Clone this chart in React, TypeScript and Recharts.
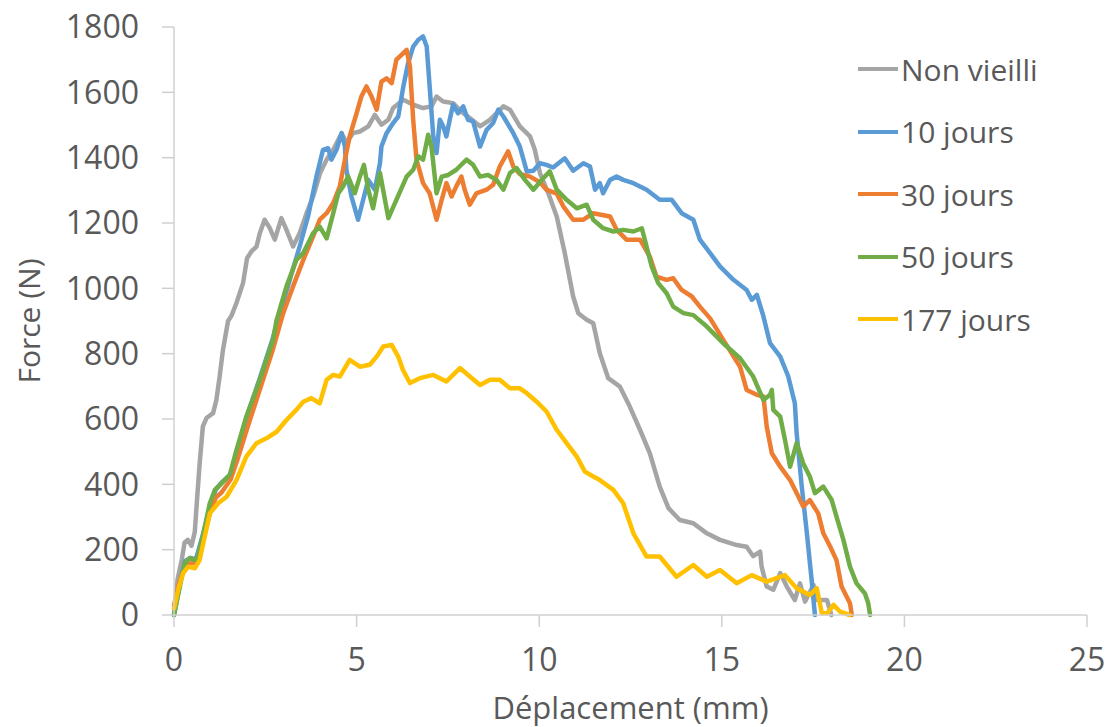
import { Label, Legend, Line, LineChart, XAxis, YAxis } from "recharts";

type Pt = [number, number];

// tick values
const xTicks = [0, 5, 10, 15, 20, 25];
const yTicks = [0, 200, 400, 600, 800, 1000, 1200, 1400, 1600, 1800];

// [déplacement (mm), force (N)]
const nonVieilli: Pt[] = [
  [0, 0], [0.1, 110], [0.21, 168], [0.29, 222], [0.38, 230], [0.48, 212], [0.57, 255],
  [0.63, 352], [0.7, 460], [0.79, 577], [0.89, 603], [1.07, 618], [1.16, 658], [1.25, 730],
  [1.34, 811], [1.48, 900], [1.57, 915], [1.71, 955], [1.89, 1016], [2.0, 1092], [2.12, 1113],
  [2.26, 1128], [2.35, 1169], [2.48, 1210], [2.62, 1185], [2.76, 1149], [2.94, 1215],
  [3.08, 1179], [3.26, 1128], [3.44, 1169], [3.63, 1230], [3.81, 1281], [4.0, 1353],
  [4.18, 1394], [4.36, 1424], [4.59, 1475], [4.72, 1445], [4.9, 1475], [5.09, 1480],
  [5.32, 1496], [5.5, 1531], [5.68, 1501], [5.87, 1516], [6.0, 1552], [6.28, 1577],
  [6.55, 1562], [6.82, 1552], [7.05, 1557], [7.19, 1587], [7.37, 1572], [7.64, 1567],
  [7.87, 1541], [8.1, 1521], [8.38, 1496], [8.65, 1516], [9.02, 1557], [9.2, 1547],
  [9.47, 1496], [9.75, 1465], [9.88, 1424], [10.02, 1353], [10.25, 1291], [10.48, 1220],
  [10.7, 1108], [10.93, 975], [11.07, 924], [11.3, 904], [11.48, 893], [11.66, 801],
  [11.89, 725], [12.21, 699], [12.48, 638], [12.76, 567], [13.03, 495], [13.3, 393],
  [13.54, 327], [13.85, 291], [14.22, 281], [14.59, 250], [14.95, 230], [15.41, 214],
  [15.68, 209], [15.86, 180], [16.05, 194], [16.09, 148], [16.23, 87], [16.41, 77],
  [16.6, 128], [16.78, 87], [17.0, 46], [17.14, 97], [17.28, 41], [17.51, 92], [17.6, 46],
  [17.88, 46], [18.0, 0],
];

const dixJours: Pt[] = [
  [0, 0], [0.15, 90], [0.3, 165], [0.45, 175], [0.6, 170], [0.8, 250], [1.0, 340],
  [1.15, 385], [1.3, 405], [1.55, 430], [1.75, 510], [2.0, 610], [2.35, 725], [2.7, 845],
  [2.94, 939], [3.17, 1026], [3.44, 1128], [3.67, 1220], [3.9, 1342], [4.08, 1424],
  [4.22, 1429], [4.31, 1394], [4.45, 1424], [4.59, 1475], [4.68, 1434], [4.72, 1363],
  [4.86, 1281], [5.04, 1210], [5.18, 1271], [5.32, 1332], [5.5, 1302], [5.64, 1383],
  [5.68, 1434], [5.82, 1475], [6.0, 1506], [6.14, 1526], [6.28, 1618], [6.41, 1689],
  [6.55, 1740], [6.69, 1761], [6.82, 1771], [6.92, 1740], [7.0, 1618], [7.1, 1465],
  [7.19, 1414], [7.28, 1516], [7.37, 1496], [7.46, 1465], [7.55, 1516], [7.64, 1562],
  [7.78, 1536], [7.92, 1557], [8.05, 1516], [8.19, 1511], [8.38, 1434], [8.56, 1485],
  [8.74, 1506], [8.88, 1547], [9.02, 1526], [9.29, 1475], [9.47, 1434], [9.66, 1358],
  [9.84, 1360], [10.02, 1383], [10.2, 1378], [10.38, 1370], [10.7, 1398], [10.93, 1360],
  [11.21, 1383], [11.39, 1373], [11.53, 1302], [11.66, 1322], [11.75, 1291], [11.94, 1332],
  [12.12, 1342], [12.3, 1332], [12.58, 1322], [12.94, 1302], [13.3, 1271], [13.63, 1271],
  [13.9, 1230], [14.22, 1210], [14.4, 1149], [14.68, 1108], [14.95, 1067], [15.32, 1026],
  [15.68, 995], [15.82, 965], [15.96, 980], [16.14, 914], [16.32, 832], [16.6, 791],
  [16.82, 730], [17.0, 648], [17.05, 556], [17.19, 393], [17.33, 250], [17.46, 107],
  [17.55, 0],
];

const trenteJours: Pt[] = [
  [0, 30], [0.15, 100], [0.3, 150], [0.45, 158], [0.6, 160], [0.8, 230], [1.0, 320],
  [1.15, 360], [1.3, 375], [1.55, 415], [1.75, 480], [2.0, 570], [2.35, 690], [2.7, 810],
  [2.99, 924], [3.26, 1006], [3.54, 1087], [3.81, 1159], [3.99, 1210], [4.18, 1230],
  [4.36, 1261], [4.54, 1312], [4.68, 1394], [4.81, 1465], [5.0, 1536], [5.13, 1587],
  [5.27, 1618], [5.41, 1587], [5.55, 1547], [5.68, 1633], [5.82, 1643], [5.96, 1628],
  [6.09, 1700], [6.23, 1715], [6.37, 1730], [6.46, 1680], [6.55, 1516], [6.64, 1394],
  [6.82, 1322], [7.0, 1291], [7.19, 1210], [7.33, 1271], [7.46, 1322], [7.6, 1281],
  [7.73, 1312], [7.87, 1342], [7.96, 1302], [8.1, 1256], [8.28, 1291], [8.56, 1302],
  [8.74, 1317], [8.92, 1373], [9.15, 1419], [9.29, 1373], [9.47, 1350], [9.75, 1342],
  [10.02, 1325], [10.2, 1302], [10.48, 1290], [10.66, 1251], [10.93, 1210], [11.21, 1210],
  [11.48, 1230], [11.94, 1220], [12.12, 1179], [12.39, 1149], [12.76, 1149], [13.03, 1097],
  [13.21, 1036], [13.49, 1026], [13.67, 1031], [13.9, 995], [14.18, 975], [14.4, 944],
  [14.68, 908], [15.04, 842], [15.5, 760], [15.68, 689], [15.96, 674], [16.14, 669],
  [16.23, 577], [16.37, 495], [16.6, 454], [16.87, 413], [17.1, 362], [17.23, 332],
  [17.41, 352], [17.64, 311], [17.78, 250], [17.97, 209], [18.14, 168], [18.28, 87],
  [18.51, 36], [18.56, 0],
];

const cinquanteJours: Pt[] = [
  [0, 0], [0.16, 87], [0.29, 158], [0.43, 174], [0.57, 168], [0.66, 179], [0.79, 240],
  [0.98, 342], [1.12, 383], [1.3, 403], [1.53, 430], [1.71, 505], [1.98, 607], [2.35, 720],
  [2.71, 842], [2.81, 903], [3.08, 1006], [3.35, 1087], [3.54, 1108], [3.81, 1169],
  [3.99, 1189], [4.18, 1153], [4.36, 1230], [4.5, 1291], [4.63, 1312], [4.77, 1342],
  [4.95, 1291], [5.09, 1342], [5.2, 1378], [5.32, 1302], [5.45, 1245], [5.64, 1353],
  [5.87, 1215], [6.09, 1271], [6.37, 1342], [6.55, 1363], [6.69, 1404], [6.82, 1394],
  [6.96, 1470], [7.05, 1434], [7.19, 1291], [7.33, 1342], [7.51, 1347], [7.73, 1363],
  [8.01, 1394], [8.19, 1378], [8.38, 1342], [8.6, 1347], [8.83, 1332], [9.02, 1302],
  [9.2, 1353], [9.38, 1368], [9.61, 1332], [9.84, 1302], [10.11, 1337], [10.29, 1358],
  [10.48, 1302], [10.75, 1271], [11.03, 1245], [11.3, 1256], [11.48, 1210], [11.75, 1184],
  [12.03, 1174], [12.3, 1179], [12.58, 1174], [12.81, 1184], [12.94, 1128], [13.08, 1067],
  [13.26, 1016], [13.49, 985], [13.67, 944], [13.95, 924], [14.22, 918], [14.59, 883],
  [15.04, 832], [15.5, 786], [15.86, 730], [16.14, 658], [16.32, 674], [16.37, 689],
  [16.41, 628], [16.6, 607], [16.73, 536], [16.87, 454], [17.05, 526], [17.23, 464],
  [17.41, 424], [17.55, 373], [17.78, 393], [18.01, 352], [18.14, 301], [18.33, 230],
  [18.51, 148], [18.69, 97], [18.92, 66], [19.01, 36], [19.06, 0],
];

const centSoixanteDixSeptJours: Pt[] = [
  [0, 20], [0.12, 80], [0.25, 128], [0.39, 148], [0.57, 143], [0.7, 168], [0.98, 311],
  [1.21, 342], [1.44, 362], [1.71, 413], [1.98, 485], [2.26, 526], [2.53, 541], [2.81, 561],
  [3.08, 597], [3.35, 628], [3.54, 653], [3.76, 664], [3.99, 648], [4.18, 720], [4.36, 735],
  [4.54, 730], [4.81, 781], [5.09, 760], [5.36, 766], [5.55, 791], [5.73, 822], [5.96, 827],
  [6.14, 791], [6.27, 750], [6.46, 710], [6.73, 725], [7.1, 735], [7.46, 715], [7.83, 756],
  [8.1, 730], [8.38, 704], [8.65, 720], [8.92, 720], [9.2, 694], [9.47, 694], [9.66, 679],
  [9.93, 653], [10.2, 623], [10.48, 567], [10.75, 526], [11.03, 485], [11.25, 439],
  [11.48, 424], [11.66, 413], [12.03, 383], [12.3, 342], [12.58, 250], [12.94, 179],
  [13.3, 179], [13.76, 117], [14.22, 153], [14.59, 117], [14.95, 138], [15.41, 97],
  [15.82, 122], [16.23, 102], [16.73, 122], [17.05, 82], [17.41, 61], [17.6, 82],
  [17.74, 5], [17.88, 5], [18.06, 31], [18.24, 10], [18.5, 0],
];

const series = [
  { name: "Non vieilli", color: "#a5a5a5", points: nonVieilli },
  { name: "10 jours", color: "#5b9bd5", points: dixJours },
  { name: "30 jours", color: "#ed7d31", points: trenteJours },
  { name: "50 jours", color: "#70ad47", points: cinquanteJours },
  { name: "177 jours", color: "#ffc000", points: centSoixanteDixSeptJours },
];

const FONT = "'Open Sans', sans-serif";
const TEXT = "#595959";
const AXIS = "#d0d0d0";

function LegendRows() {
  return (
    <div style={{ fontFamily: FONT }}>
      {series.map((s) => (
        <div key={s.name} style={{ display: "flex", alignItems: "center", height: 62.5 }}>
          <span style={{ display: "inline-block", width: 40, height: 4, background: s.color, marginRight: 3 }} />
          <span style={{ fontSize: 30, color: TEXT, whiteSpace: "nowrap" }}>{s.name}</span>
        </div>
      ))}
    </div>
  );
}

export default function App() {
  return (
    <div style={{ position: "absolute", left: 0, top: 0, width: 1109, height: 727, background: "#fff", fontFamily: FONT }}>
      <LineChart width={1109} height={727} margin={{ top: 27, right: 22, bottom: 0, left: 0 }}>
        <XAxis
          type="number"
          dataKey="x"
          domain={[0, 25]}
          ticks={xTicks}
          interval={0}
          height={112}
          stroke={AXIS}
          strokeWidth={1.5}
          tickSize={12}
          tickMargin={21}
          tick={{ fill: TEXT, fontSize: 32, fontFamily: FONT }}
        >
          <Label value="Déplacement (mm)" position="insideBottom" offset={8} fill={TEXT} fontSize={31} fontFamily={FONT} />
        </XAxis>
        <YAxis
          type="number"
          domain={[0, 1800]}
          ticks={yTicks}
          interval={0}
          width={174}
          stroke={AXIS}
          strokeWidth={1.5}
          tickSize={12}
          tickMargin={23}
          tick={{ fill: TEXT, fontSize: 32, fontFamily: FONT }}
        >
          <Label
            value="Force (N)"
            angle={-90}
            position="insideLeft"
            offset={29}
            fill={TEXT}
            fontSize={30}
            fontFamily={FONT}
            style={{ textAnchor: "middle" }}
          />
        </YAxis>
        {series.map((s) => (
          <Line
            key={s.name}
            name={s.name}
            data={s.points.map(([x, y]) => ({ x, y }))}
            dataKey="y"
            type="linear"
            stroke={s.color}
            strokeWidth={4.5}
            strokeLinejoin="round"
            strokeLinecap="round"
            dot={false}
            activeDot={false}
            isAnimationActive={false}
          />
        ))}
        <Legend
          layout="horizontal"
          align="center"
          verticalAlign="middle"
          content={() => <LegendRows />}
          wrapperStyle={{ left: 858, top: 38, width: 250, height: 320 }}
        />
      </LineChart>
    </div>
  );
}
